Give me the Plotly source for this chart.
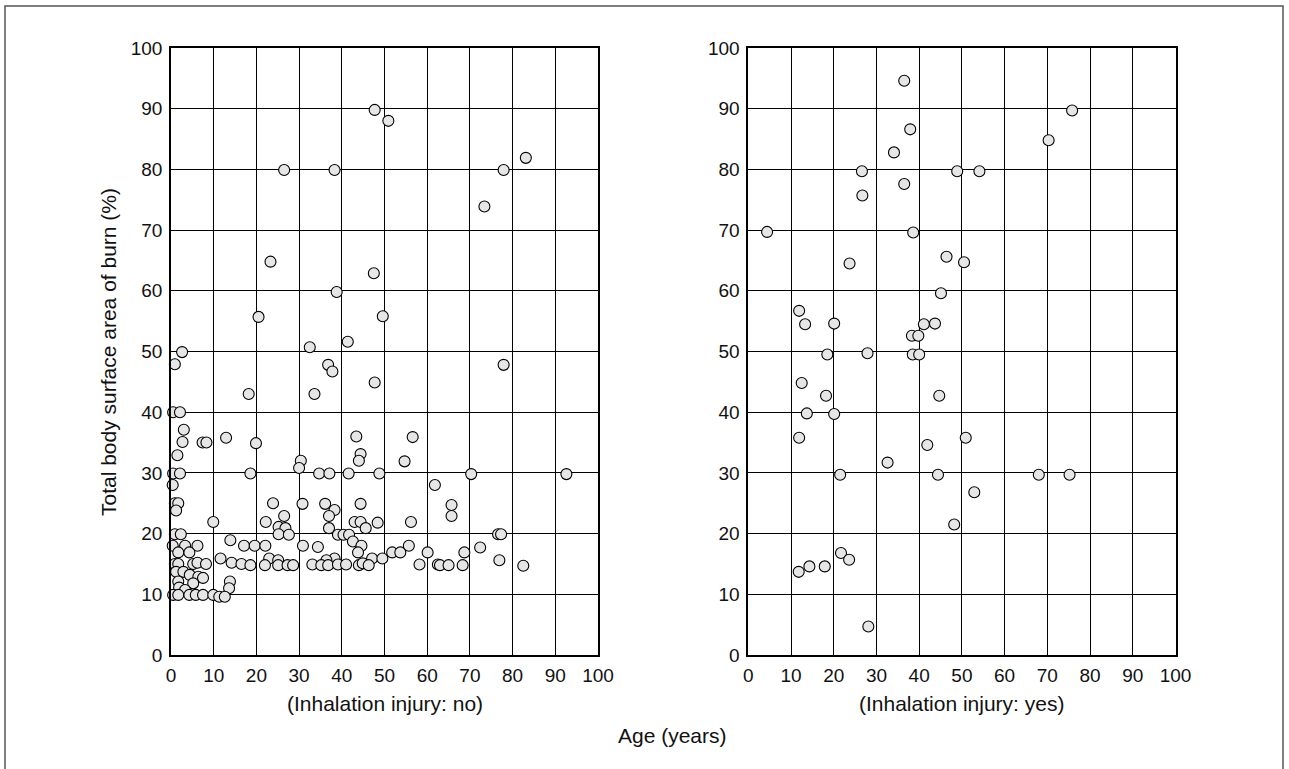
import plotly.graph_objects as go

# Inhalation injury: no
age_no = [47.7, 50.9, 83.1, 77.9, 73.4, 26.5, 38.3, 23.3, 47.5, 38.8, 20.5, 49.6, 32.5, 41.4, 2.6, 0.9,
          36.8, 37.8, 77.9, 47.7, 18.2, 33.6, 0.5, 2.1, 3.0, 2.7, 7.4, 8.3, 12.9, 19.9, 1.5, 30.4, 30.0,
          0.5, 2.1, 18.6, 0.4, 0.9, 1.7, 1.2, 23.9, 30.8, 9.9, 22.2, 26.5, 25.2, 26.8, 25.2, 27.6, 0.9,
          2.3, 13.9, 0.4, 3.3, 6.2, 17.1, 19.6, 22.1, 30.9, 1.7, 4.3, 11.6, 23.0, 25.1, 14.2, 16.5, 18.6,
          22.0, 25.1, 27.3, 28.6, 0.9, 1.7, 5.2, 6.2, 8.2, 1.2, 2.9, 4.4, 6.4, 7.5, 1.7, 5.2, 13.8, 13.6,
          1.9, 3.3, 0.5, 1.7, 4.3, 5.8, 7.5, 9.9, 11.3, 12.6,
          43.4, 56.6, 44.4, 44.0, 54.7, 34.7, 37.1, 41.6, 48.8, 61.8, 36.1, 38.3, 37.0, 44.4, 43.0, 44.4,
          45.6, 48.4, 56.2, 37.0, 39.1, 40.4, 41.7, 42.6, 44.6, 34.4, 55.7, 43.8, 51.8, 53.7, 60.1, 47.1,
          49.5, 38.3, 36.4, 33.1, 35.2, 36.8, 39.1, 41.0, 44.0, 44.9, 46.3, 58.2, 62.5,
          70.3, 92.6, 65.7, 65.7, 76.6, 77.3, 68.7, 72.4, 76.9, 63.0, 65.0, 68.3, 82.5]
tbsa_no = [89.8, 88.0, 81.9, 79.9, 73.9, 79.9, 79.9, 64.8, 62.9, 59.8, 55.7, 55.8, 50.7, 51.6, 49.9, 47.9,
           47.8, 46.7, 47.8, 44.9, 43.0, 43.0, 40.0, 40.0, 37.1, 35.1, 35.0, 35.0, 35.8, 34.9, 32.9, 32.0, 30.8,
           29.9, 29.9, 29.9, 28.0, 25.0, 25.0, 23.8, 25.0, 24.9, 21.9, 21.9, 22.9, 21.1, 20.9, 19.9, 19.8, 19.9,
           19.9, 18.9, 18.0, 18.0, 18.0, 18.0, 18.0, 18.0, 18.0, 16.9, 16.9, 15.9, 15.9, 15.6, 15.2, 15.0, 14.8,
           14.8, 14.8, 14.8, 14.8, 15.0, 15.0, 15.0, 15.2, 15.0, 13.7, 13.7, 13.2, 12.9, 12.7, 12.1, 11.8, 12.1, 11.0,
           11.1, 10.7, 9.9, 9.9, 9.9, 9.9, 9.9, 9.9, 9.6, 9.6,
           36.0, 35.9, 33.1, 32.0, 31.9, 29.9, 29.9, 29.9, 29.9, 28.0, 24.9, 23.9, 22.9, 24.9, 21.9, 21.9,
           20.9, 21.8, 21.9, 20.9, 19.8, 19.8, 19.8, 18.7, 18.0, 17.8, 18.0, 16.9, 16.9, 16.9, 16.9, 15.9,
           15.9, 15.9, 15.6, 14.9, 14.8, 14.8, 14.9, 14.9, 14.8, 15.1, 14.8, 14.9, 14.9,
           29.8, 29.8, 24.7, 22.9, 19.9, 19.9, 16.9, 17.7, 15.6, 14.8, 14.8, 14.8, 14.7]

# Inhalation injury: yes
age_yes = [36.5, 37.9, 34.1, 26.6, 48.9, 54.1, 36.5, 26.7, 4.4, 38.6, 23.7, 46.4, 50.5, 45.1, 11.9, 13.3,
           20.1, 41.1, 43.7, 38.3, 39.8, 18.5, 27.9, 38.5, 40.0, 12.5, 18.2, 44.7, 13.7, 20.1, 11.9, 41.9,
           50.9, 32.6, 21.5, 44.4, 68.0, 75.2, 52.9, 48.2, 21.7, 23.6, 11.8, 14.3, 17.9, 28.1, 70.3, 75.8]
tbsa_yes = [94.6, 86.6, 82.8, 79.7, 79.7, 79.7, 77.6, 75.7, 69.7, 69.6, 64.5, 65.6, 64.7, 59.6, 56.7, 54.5,
            54.6, 54.5, 54.6, 52.6, 52.6, 49.5, 49.7, 49.5, 49.5, 44.8, 42.7, 42.7, 39.8, 39.7, 35.8, 34.6,
            35.8, 31.7, 29.7, 29.7, 29.7, 29.7, 26.8, 21.5, 16.8, 15.7, 13.7, 14.6, 14.6, 4.7, 84.8, 89.7]

tick_vals = list(range(0, 101, 10))
tick_text = [str(v) for v in tick_vals]

W, H = 1289, 769
FONT = "Liberation Sans, Arial, sans-serif"

marker = dict(size=11, color="#e6e6e6", line=dict(color="#000000", width=1.1))

fig = go.Figure()
fig.add_trace(go.Scatter(x=age_no, y=tbsa_no, mode="markers", marker=marker,
                         xaxis="x", yaxis="y", showlegend=False, cliponaxis=False))
fig.add_trace(go.Scatter(x=age_yes, y=tbsa_yes, mode="markers", marker=marker,
                         xaxis="x2", yaxis="y2", showlegend=False, cliponaxis=False))

def ax(domain, anchor, tl):
    return dict(domain=domain, anchor=anchor, range=[0, 100], tickvals=tick_vals, ticktext=tick_text,
                showgrid=True, gridcolor="#000000", gridwidth=1.2, zeroline=False,
                showline=True, linecolor="#000000", linewidth=1.6, mirror=True,
                ticks="outside", ticklen=tl, tickcolor="rgba(0,0,0,0)",
                tickfont=dict(family=FONT, size=19, color="#111111"),
                automargin=False, fixedrange=True)

ydom = [(H - 655) / H, (H - 48) / H]
fig.update_layout(
    width=W, height=H, autosize=False,
    margin=dict(l=0, r=0, t=0, b=0, pad=0, autoexpand=False),
    paper_bgcolor="white", plot_bgcolor="white",
    xaxis=ax([171 / W, 598 / W], "y", 2),
    yaxis=ax(ydom, "x", 3),
    xaxis2=ax([748.3 / W, 1175.5 / W], "y2", 2),
    yaxis2=ax(ydom, "x2", 3),
    font=dict(family=FONT, size=19, color="#111111"),
)

ann = dict(xref="paper", yref="paper", showarrow=False, xanchor="center", yanchor="middle",
           font=dict(family=FONT, size=21, color="#111111"))
fig.add_annotation(text="(Inhalation injury: no)", x=384.5 / W, y=1 - 703 / H, **ann)
fig.add_annotation(text="(Inhalation injury: yes)", x=962 / W, y=1 - 703 / H, **ann)
fig.add_annotation(text="Age (years)", x=673 / W, y=1 - 735 / H, **ann)
fig.add_annotation(text="Total body surface area of burn (%)", x=108 / W, y=1 - 352 / H, textangle=-90, **ann)

fig.add_shape(type="rect", xref="paper", yref="paper", x0=5 / W, x1=1283 / W, y0=-0.02, y1=1 - 6 / H,
              line=dict(color="#555555", width=1.5), fillcolor="rgba(0,0,0,0)", layer="below")

fig.write_html("out.html", config={"displayModeBar": False},
               post_script="document.body.style.margin='0';document.body.style.overflow='hidden';"
                           "document.documentElement.style.overflow='hidden';")
